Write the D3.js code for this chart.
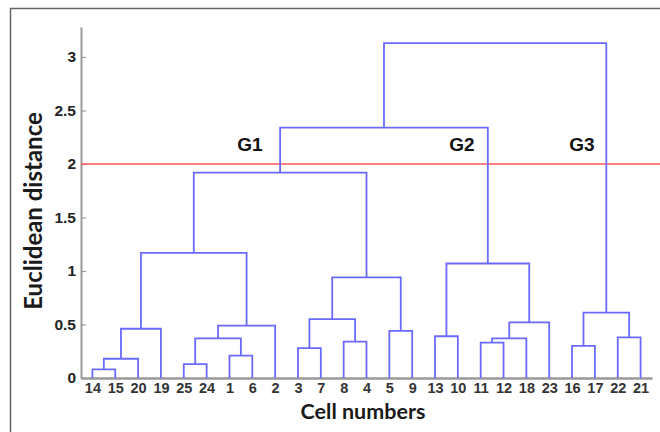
<!DOCTYPE html>
<html>
<head>
<meta charset="utf-8">
<script src="https://cdn.jsdelivr.net/npm/d3@7"></script>
<style>
  body { margin: 0; background: #fff; }
  svg { display: block; }
</style>
</head>
<body>
<div id="chart"></div>
<script>
var svgWidth = 660;
var svgHeight = 432;

// leaf order along the x axis
var leafOrder = ["14", "15", "20", "19", "25", "24", "1", "6", "2", "3", "7", "8", "4",
  "5", "9", "13", "10", "11", "12", "18", "23", "16", "17", "22", "21"];

// merges: left child, right child, height (n# = result of merge #)
var mergeLeft  = ["14", "n1", "n2", "25", "1", "n4", "n6", "n3", "3", "8", "n9", "5", "n11",
  "n8", "13", "11", "n16", "n17", "n15", "n14", "16", "22", "n21", "n20"];
var mergeRight = ["15", "20", "19", "24", "6", "n5", "2", "n7", "7", "4", "n10", "9", "n12",
  "n13", "10", "12", "18", "23", "n18", "n19", "17", "21", "n22", "n23"];
var mergeHeight = [0.08, 0.18, 0.46, 0.13, 0.21, 0.37, 0.49, 1.17, 0.28, 0.34, 0.55, 0.44, 0.94,
  1.92, 0.39, 0.33, 0.37, 0.52, 1.07, 2.34, 0.30, 0.38, 0.61, 3.13];

var yTicks = [0, 0.5, 1, 1.5, 2, 2.5, 3];
var cutHeight = 2;
var groupLabels = ["G1", "G2", "G3"];

var svg = d3.select("#chart")
  .append("svg")
  .attr("width", svgWidth)
  .attr("height", svgHeight);

// outer frame (only top/left visible)
svg.append("path")
  .attr("d", "M10.5,432 V8.5 H660")
  .attr("fill", "none")
  .attr("stroke", "#666")
  .attr("stroke-width", 1.5);

var x = d3.scalePoint()
  .domain(leafOrder)
  .range([81, 652])
  .padding(0.5);

var y = d3.scaleLinear()
  .domain([0, 3.28])
  .range([378, 27]);

// node positions
var pos = {};
leafOrder.forEach(function(d) { pos[d] = { x: x(d), h: 0 }; });

var links = mergeHeight.map(function(h, i) {
  var a = pos[mergeLeft[i]], b = pos[mergeRight[i]];
  pos["n" + (i + 1)] = { x: (a.x + b.x) / 2, h: h };
  return { a: a, b: b, h: h };
});

// axes
var yAxis = svg.append("g")
  .attr("transform", "translate(81,0)")
  .call(d3.axisLeft(y).tickValues(yTicks).tickSizeInner(-5).tickSizeOuter(0).tickPadding(5)
    .tickFormat(function(d) { return d; }));
yAxis.select(".domain").attr("stroke", "#999").attr("stroke-width", 2);
yAxis.selectAll(".tick line").attr("stroke", "#999").attr("stroke-width", 1.2);
yAxis.selectAll(".tick text")
  .attr("font-family", "'Liberation Sans', Arial, sans-serif")
  .attr("font-weight", "bold")
  .attr("font-size", 15.5)
  .attr("fill", "#222");

var xAxis = svg.append("g")
  .attr("transform", "translate(0,378)")
  .call(d3.axisBottom(x).tickSize(0).tickPadding(5));
xAxis.select(".domain").attr("stroke", "#999").attr("stroke-width", 2.5);
xAxis.selectAll(".tick text")
  .attr("font-family", "'Liberation Sans Narrow', 'Liberation Sans', Arial, sans-serif")
  .attr("font-weight", "bold")
  .attr("font-size", 14.5)
  .attr("fill", "#333");

// cut line
svg.append("line")
  .attr("x1", 81).attr("x2", 660)
  .attr("y1", y(cutHeight)).attr("y2", y(cutHeight))
  .attr("stroke", "#ff5555")
  .attr("stroke-width", 1.5);

// dendrogram
svg.append("g").selectAll("path")
  .data(links)
  .enter()
  .append("path")
  .attr("d", function(d) {
    return "M" + d.a.x + "," + y(d.a.h) + "V" + y(d.h) + "H" + d.b.x + "V" + y(d.b.h);
  })
  .attr("fill", "none")
  .attr("stroke", "#6a6aff")
  .attr("stroke-width", 1.8);

// group labels
var labelX = [250, 462, 582];
svg.append("g").selectAll("text")
  .data(groupLabels)
  .enter()
  .append("text")
  .attr("x", function(d, i) { return labelX[i]; })
  .attr("y", 151)
  .attr("text-anchor", "middle")
  .attr("font-family", "'Liberation Sans', Arial, sans-serif")
  .attr("font-weight", "bold")
  .attr("font-size", 19)
  .attr("fill", "#111")
  .text(function(d) { return d; });

// axis titles
svg.append("text")
  .attr("x", 363).attr("y", 419)
  .attr("text-anchor", "middle")
  .attr("font-family", "Lato, 'Open Sans', sans-serif")
  .attr("font-weight", "bold")
  .attr("font-size", 21.5)
  .attr("fill", "#1a1a1a")
  .text("Cell numbers");

svg.append("text")
  .attr("transform", "translate(42,211) rotate(-90)")
  .attr("text-anchor", "middle")
  .attr("font-family", "Lato, 'Open Sans', sans-serif")
  .attr("font-weight", "bold")
  .attr("font-size", 24)
  .attr("fill", "#1a1a1a")
  .text("Euclidean distance");
</script>
</body>
</html>
